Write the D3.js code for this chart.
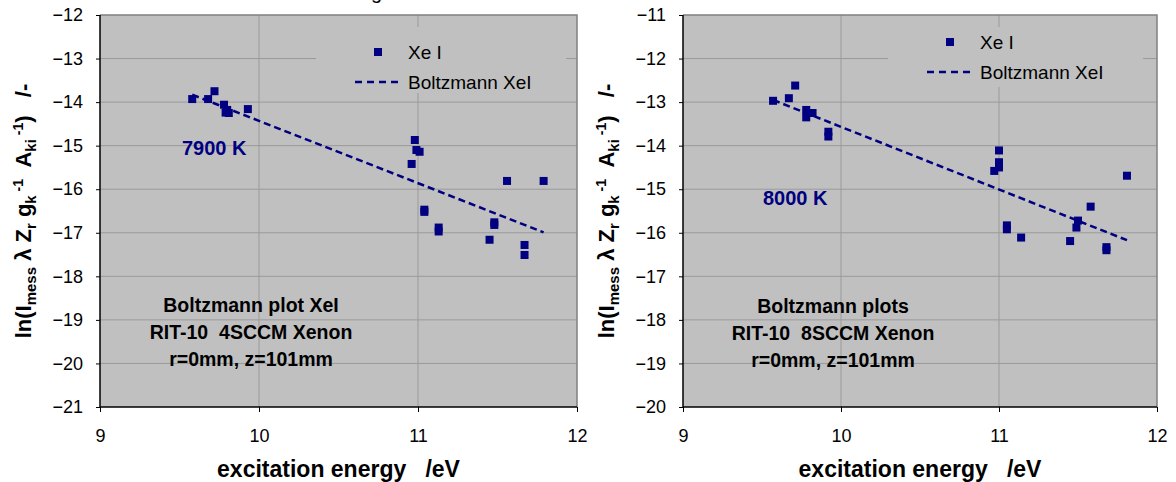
<!DOCTYPE html>
<html>
<head>
<meta charset="utf-8">
<script src="https://cdn.jsdelivr.net/npm/d3@7"></script>
<style>
  body { margin: 0; background: #fff; }
  svg { display: block; font-family: "Liberation Sans", Arial, sans-serif; }
</style>
</head>
<body>
<svg width="1176" height="482"></svg>
<script>
// ====== data ====== //
const xTicks = [9, 10, 11, 12];
const leftYTicks = [-12, -13, -14, -15, -16, -17, -18, -19, -20, -21];
const rightYTicks = [-11, -12, -13, -14, -15, -16, -17, -18, -19, -20];

// 4SCCM, 7900 K
const leftX = [9.58, 9.68, 9.72, 9.78, 9.79, 9.81, 9.80, 9.93, 10.98, 10.99, 11.01, 10.96, 11.56, 11.79,
               11.04, 11.04, 11.13, 11.13, 11.48, 11.48, 11.45, 11.67, 11.67];
const leftY = [-13.93, -13.93, -13.75, -14.06, -14.24, -14.25, -14.18, -14.16, -14.87, -15.10, -15.14, -15.42, -15.81, -15.81,
               -16.47, -16.52, -16.88, -16.97, -16.76, -16.82, -17.16, -17.28, -17.51];
const leftFitX = [9.58, 11.79];
const leftFitY = [-13.83, -16.99];

// 8SCCM, 8000 K
const rightX = [9.57, 9.67, 9.71, 9.78, 9.78, 9.82, 9.92, 9.92, 11.00, 11.00, 11.00, 10.97, 11.81,
                11.05, 11.05, 11.14, 11.45, 11.50, 11.49, 11.58, 11.68, 11.68];
const rightY = [-12.97, -12.91, -12.62, -13.18, -13.35, -13.25, -13.68, -13.79, -14.11, -14.38, -14.50, -14.58, -14.69,
                -15.83, -15.92, -16.11, -16.19, -15.72, -15.88, -15.40, -16.33, -16.40];
const rightFitX = [9.57, 11.81];
const rightFitY = [-12.95, -16.17];

const legendLabels = ["Xe I", "Boltzmann XeI"];

const svg = d3.select("svg");
const navy = "#000080";
const bg = "#c0c0c0";

// cropped title leftover at the very top
svg.append("text").attr("x", 371).attr("y", -1).attr("font-size", 20).text("g");

function drawPanel(p) {
  const x = d3.scaleLinear().domain([9, 12]).range([p.left, p.right]);
  const y = d3.scaleLinear().domain(p.yDomain).range([p.top, p.bottom]);
  const g = svg.append("g");

  // plot area
  g.append("rect").attr("x", p.left).attr("y", p.top)
    .attr("width", p.right - p.left).attr("height", p.bottom - p.top)
    .attr("fill", bg);

  // gridlines
  g.selectAll(".hg").data(p.yTicks.slice(1, -1)).join("line")
    .attr("x1", p.left).attr("x2", p.right)
    .attr("y1", d => y(d)).attr("y2", d => y(d))
    .attr("stroke", "#9a9a9a").attr("stroke-width", 1);
  g.selectAll(".vg").data(xTicks.slice(1, -1)).join("line")
    .attr("x1", d => x(d)).attr("x2", d => x(d))
    .attr("y1", p.top).attr("y2", p.bottom)
    .attr("stroke", "#9a9a9a").attr("stroke-width", 1);

  // top and right border
  g.append("path")
    .attr("d", `M${p.left},${p.top}H${p.right}V${p.bottom}`)
    .attr("fill", "none").attr("stroke", "#808080").attr("stroke-width", 1.5);

  // axes
  const yAxis = g.append("g").attr("transform", `translate(${p.left},0)`)
    .call(d3.axisLeft(y).tickValues(p.yTicks).tickSize(4).tickPadding(13).tickFormat(d3.format("d")));
  const xAxis = g.append("g").attr("transform", `translate(0,${p.bottom})`)
    .call(d3.axisBottom(x).tickValues(xTicks).tickSize(5).tickPadding(17).tickFormat(d3.format("d")));
  [yAxis, xAxis].forEach(a => {
    a.select(".domain").attr("stroke", "#000").attr("stroke-width", 1.5);
    a.selectAll(".tick line").attr("stroke", "#000");
    a.selectAll("text").attr("font-size", 18).attr("font-family", "Liberation Sans, Arial").attr("fill", "#000");
  });
  yAxis.select(".domain").attr("d", `M0,${p.top}V${p.bottom}`);
  xAxis.select(".domain").attr("d", `M${p.left},0H${p.right}`);

  // legend box
  g.append("rect").attr("x", p.legX).attr("y", p.legY)
    .attr("width", p.legW).attr("height", p.legH).attr("fill", bg);
  g.append("rect").attr("x", p.legX + 62 - 4).attr("y", p.legY + p.legRow1 - 4)
    .attr("width", 8).attr("height", 8).attr("fill", navy);
  g.append("line").attr("x1", p.legX + 39).attr("x2", p.legX + 87)
    .attr("y1", p.legY + p.legRow1 + 30).attr("y2", p.legY + p.legRow1 + 30)
    .attr("stroke", navy).attr("stroke-width", 2.5).attr("stroke-dasharray", "7,5");
  g.selectAll(".legtxt").data(legendLabels).join("text")
    .attr("x", p.legX + 92).attr("y", (d, i) => p.legY + p.legRow1 + i * 30)
    .attr("dy", "0.35em").attr("font-size", 19).text(d => d);

  // fit line
  const line = d3.line().x(d => x(d[0])).y(d => y(d[1]));
  g.append("path").datum(d3.zip(p.fitX, p.fitY))
    .attr("d", line).attr("fill", "none")
    .attr("stroke", navy).attr("stroke-width", 2.5).attr("stroke-dasharray", "7,4");

  // points
  g.selectAll(".pt").data(d3.zip(p.xs, p.ys)).join("rect")
    .attr("x", d => x(d[0]) - 4).attr("y", d => y(d[1]) - 4)
    .attr("width", 8).attr("height", 8).attr("fill", navy);

  // temperature label
  g.append("text").attr("x", p.tempX).attr("y", p.tempY).attr("dy", "0.35em")
    .attr("font-size", 20).attr("font-weight", "bold").attr("fill", navy).text(p.temp);

  // info block
  g.selectAll(".info").data(p.info).join("text")
    .attr("x", p.infoX).attr("y", (d, i) => p.infoY + i * 27).attr("dy", "0.35em")
    .attr("text-anchor", "middle").attr("font-size", 19.5).attr("font-weight", "bold")
    .attr("xml:space", "preserve").text(d => d);

  // x title
  g.append("text").attr("x", (p.left + p.right) / 2).attr("y", 469).attr("dy", "0.35em")
    .attr("text-anchor", "middle").attr("font-size", 23).attr("font-weight", "bold")
    .attr("xml:space", "preserve").text("excitation energy   /eV");

  // y title with sub/superscripts
  const yt = g.append("text")
    .attr("transform", `translate(${p.yTitleX},211) rotate(-90)`)
    .attr("text-anchor", "middle").attr("font-size", 22).attr("font-weight", "bold")
    .attr("xml:space", "preserve");
  const parts = [
    ["ln(I", 0, 22], ["mess", 5, 15], [" \u03bb Z", -5, 22], ["r", 5, 15], [" g", -5, 22],
    ["k", 5, 15], [" -1", -13, 14], ["  A", 8, 22], ["ki", 5, 15], [" -1", -13, 14], [")   /-", 8, 22]
  ];
  parts.forEach(([t, dy, fs]) => yt.append("tspan").attr("dy", dy).attr("font-size", fs).text(t));
}

drawPanel({
  left: 100, right: 577, top: 15, bottom: 407,
  yDomain: [-12, -21], yTicks: leftYTicks,
  xs: leftX, ys: leftY, fitX: leftFitX, fitY: leftFitY,
  legX: 316, legY: 27, legW: 250, legH: 66, legRow1: 25,
  temp: "7900 K", tempX: 182, tempY: 148,
  info: ["Boltzmann plot XeI", "RIT-10  4SCCM Xenon", "r=0mm, z=101mm"], infoX: 251, infoY: 305,
  yTitleX: 31
});

drawPanel({
  left: 683, right: 1157, top: 15, bottom: 407,
  yDomain: [-11, -20], yTicks: rightYTicks,
  xs: rightX, ys: rightY, fitX: rightFitX, fitY: rightFitY,
  legX: 888, legY: 27, legW: 255, legH: 60, legRow1: 15,
  temp: "8000 K", tempX: 763, tempY: 198,
  info: ["Boltzmann plots", "RIT-10  8SCCM Xenon", "r=0mm, z=101mm"], infoX: 833, infoY: 306,
  yTitleX: 614
});
</script>
</body>
</html>
